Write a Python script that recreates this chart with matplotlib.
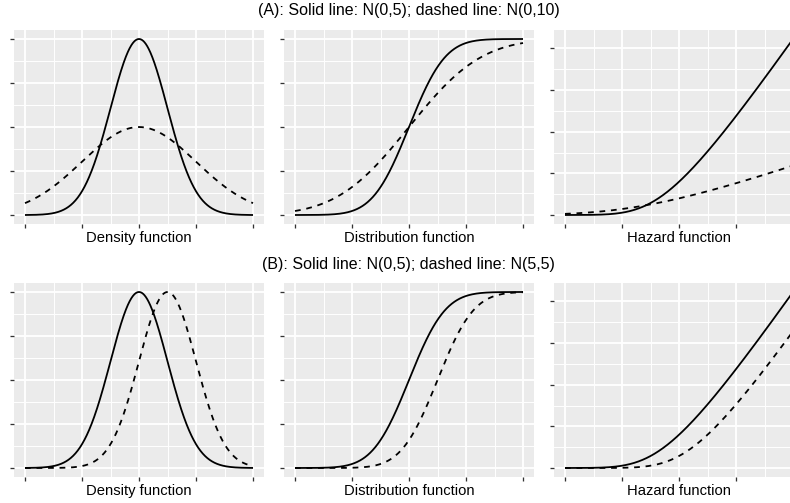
import math
import numpy as np
import matplotlib
matplotlib.use("Agg")
import matplotlib.pyplot as plt
from matplotlib.ticker import MultipleLocator, AutoMinorLocator, NullFormatter

# normal distributions compared in each row: N(mean, sd)
row_titles = ["(A): Solid line: N(0,5); dashed line: N(0,10)",
              "(B): Solid line: N(0,5); dashed line: N(5,5)"]
solid_mean = [0, 0]
solid_sd = [5, 5]
dashed_mean = [0, 5]
dashed_sd = [10, 5]
func_labels = ["Density function", "Distribution function", "Hazard function"]
x_from, x_to = -20, 20

W, H, DPI = 790, 503, 100
PT = 72.0 / DPI  # points per pixel

plt.rcParams["font.family"] = ["Liberation Sans", "DejaVu Sans"]

_erfc = np.vectorize(math.erfc)


def dens(x, m, s):
    return np.exp(-0.5 * ((x - m) / s) ** 2) / (s * math.sqrt(2 * math.pi))


def surv(x, m, s):
    return 0.5 * _erfc((x - m) / (s * math.sqrt(2)))


def curves(x, m, s):
    f = dens(x, m, s)
    S = surv(x, m, s)
    return [f, 1 - S, f / S]


x = np.linspace(x_from, x_to, 801)

fig = plt.figure(figsize=(W / DPI, H / DPI), dpi=DPI)


def px_axes(left, top, w, h):
    return fig.add_axes([left / W, 1 - (top + h) / H, w / W, h / H])


col_left = [13.6, 283.6, 553.6]
row_top = [30.2, 283.2]
pw, ph = 250.8, 193.6
ystep = [0.02, 0.25, 0.2]

for r in range(2):
    sol = curves(x, solid_mean[r], solid_sd[r])
    das = curves(x, dashed_mean[r], dashed_sd[r])
    for c in range(3):
        ax = px_axes(col_left[c], row_top[r], pw, ph)
        ax.set_facecolor("#EBEBEB")
        for sp in ax.spines.values():
            sp.set_visible(False)
        ax.plot(x, sol[c], color="black", lw=1.8 * PT, solid_capstyle="butt")
        ax.plot(x, das[c], color="black", lw=1.8 * PT, linestyle=(0, (3.2, 3.2)))
        lo = min(sol[c].min(), das[c].min())
        hi = max(sol[c].max(), das[c].max())
        ax.set_ylim(lo - 0.05 * (hi - lo), hi + 0.05 * (hi - lo))
        ax.set_xlim(x_from - 0.05 * (x_to - x_from), x_to + 0.05 * (x_to - x_from))
        ax.xaxis.set_major_locator(MultipleLocator(10))
        ax.yaxis.set_major_locator(MultipleLocator(ystep[c]))
        ax.xaxis.set_minor_locator(AutoMinorLocator(2))
        ax.yaxis.set_minor_locator(AutoMinorLocator(2))
        ax.xaxis.set_major_formatter(NullFormatter())
        ax.yaxis.set_major_formatter(NullFormatter())
        ax.grid(which="major", color="white", lw=1.9 * PT)
        ax.grid(which="minor", color="white", lw=0.95 * PT)
        ax.set_axisbelow(True)
        ax.tick_params(which="major", direction="out", length=3.7 * PT,
                       width=1.3 * PT, color="#333333")
        ax.tick_params(which="minor", length=0)
        ax.set_xlabel(func_labels[c], fontsize=14.7 * PT, labelpad=-1)
    fig.text(408.5 / W, 1 - (10 + r * 255) / H, row_titles[r],
             ha="center", va="center", fontsize=16 * PT)

fig.savefig("out.png", dpi=DPI)
